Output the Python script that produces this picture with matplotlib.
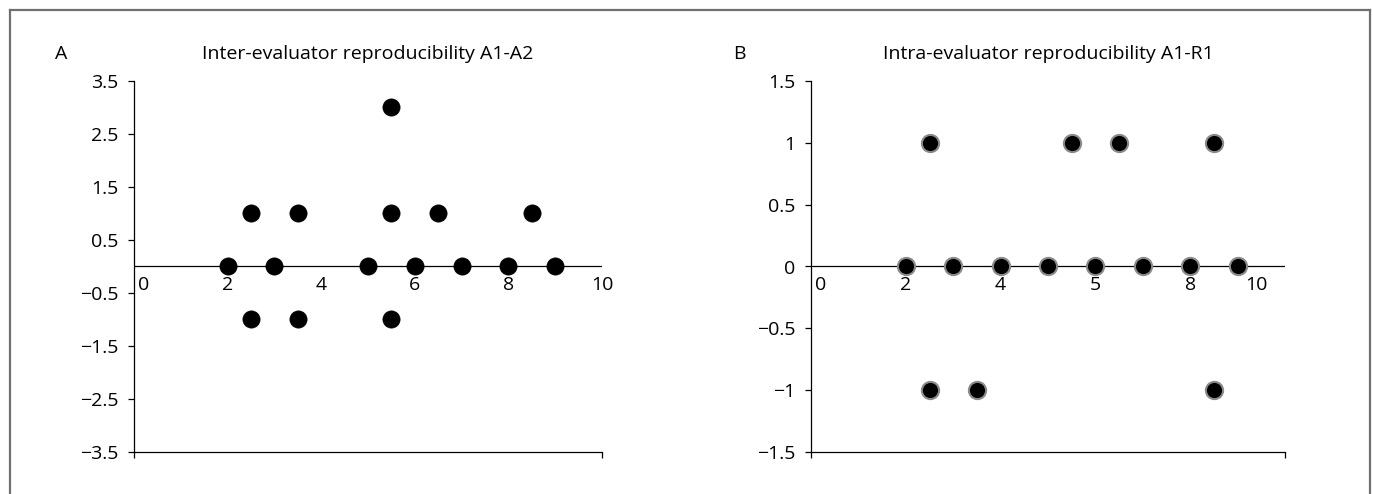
import matplotlib
matplotlib.use("Agg")
import matplotlib.pyplot as plt
from matplotlib.lines import Line2D

plt.rcParams['font.family'] = ['Open Sans', 'DejaVu Sans']

# ---- data ----
a_x = [2, 3, 5, 6, 7, 8, 9, 2.5, 3.5, 5.5, 6.5, 8.5, 2.5, 3.5, 5.5, 5.5]
a_y = [0, 0, 0, 0, 0, 0, 0, 1, 1, 1, 1, 1, -1, -1, -1, 3]
a_title = "Inter-evaluator reproducibility A1-A2"
a_yticks = [3.5, 2.5, 1.5, 0.5, -0.5, -1.5, -2.5, -3.5]
a_ylabels = ["3.5", "2.5", "1.5", "0.5", "\u22120.5", "\u22121.5", "\u22122.5", "\u22123.5"]
a_xlab_pos = [0, 2, 4, 6, 8, 10]
a_xlab_txt = ["0", "2", "4", "6", "8", "10"]

b_x = [2, 3, 4, 5, 6, 7, 8, 9, 2.5, 5.5, 6.5, 8.5, 2.5, 3.5, 8.5]
b_y = [0, 0, 0, 0, 0, 0, 0, 0, 1, 1, 1, 1, -1, -1, -1]
b_title = "Intra-evaluator reproducibility A1-R1"
b_yticks = [1.5, 1, 0.5, 0, -0.5, -1, -1.5]
b_ylabels = ["1.5", "1", "0.5", "0", "\u22120.5", "\u22121", "\u22121.5"]
b_xlab_pos = [0, 2, 4, 6, 8, 9.4]
b_xlab_txt = ["0", "2", "4", "5", "8", "10"]

fig = plt.figure(figsize=(13.73, 4.94), dpi=100)

FS = 14

def panel(rect, xs, ys, title, letter, letter_x, yticks, ylabels, xpos, xtxt, ylim, mec, mew):
    ax = fig.add_axes(rect)
    ax.set_xlim(0, 10)
    ax.set_ylim(*ylim)
    for s in ['top', 'right']:
        ax.spines[s].set_visible(False)
    for s in ['left', 'bottom']:
        ax.spines[s].set_linewidth(0.9)
    ax.set_yticks(yticks)
    ax.set_yticklabels(ylabels, fontsize=FS)
    ax.set_xticks([0, 10])
    ax.set_xticklabels(["", ""])
    ax.tick_params(axis='both', direction='out', length=4.5, width=0.9, pad=7)
    ax.axhline(0, color='black', lw=0.9, zorder=2)
    ax.plot(xs, ys, 'o', color='black', markersize=12.4, markeredgecolor=mec,
            markeredgewidth=mew, zorder=3, clip_on=False)
    for i, (p, t) in enumerate(zip(xpos, xtxt)):
        ax.annotate(t, xy=(p, 0), xytext=(3 if i == 0 else 0, -6.5), textcoords='offset points',
                    ha='left' if i == 0 else 'center', va='top', fontsize=FS)
    cx = rect[0] + rect[2] / 2
    fig.text(cx, 0.891, title, ha='center', va='center', fontsize=FS)
    fig.text(letter_x, 0.891, letter, ha='center', va='center', fontsize=FS)
    return ax

panel([134/1373, 1-452/494, 468/1373, 371/494], a_x, a_y, a_title, "A", 61/1373,
      a_yticks, a_ylabels, a_xlab_pos, a_xlab_txt, (-3.5, 3.5), 'black', 0.5)
panel([811/1373, 1-452/494, 474/1373, 371/494], b_x, b_y, b_title, "B", 739/1373,
      b_yticks, b_ylabels, b_xlab_pos, b_xlab_txt, (-1.5, 1.5), '#8a8a8a', 1.5)

# outer frame (top, left, right)
fc = '#707070'
y0 = 1 - 10/494
fig.add_artist(Line2D([10/1373, 1370/1373], [y0, y0], color=fc, lw=1.6, transform=fig.transFigure))
fig.add_artist(Line2D([10/1373, 10/1373], [0, y0], color=fc, lw=1.6, transform=fig.transFigure))
fig.add_artist(Line2D([1370/1373, 1370/1373], [0, y0], color=fc, lw=1.6, transform=fig.transFigure))

fig.savefig("out.png", dpi=100)
